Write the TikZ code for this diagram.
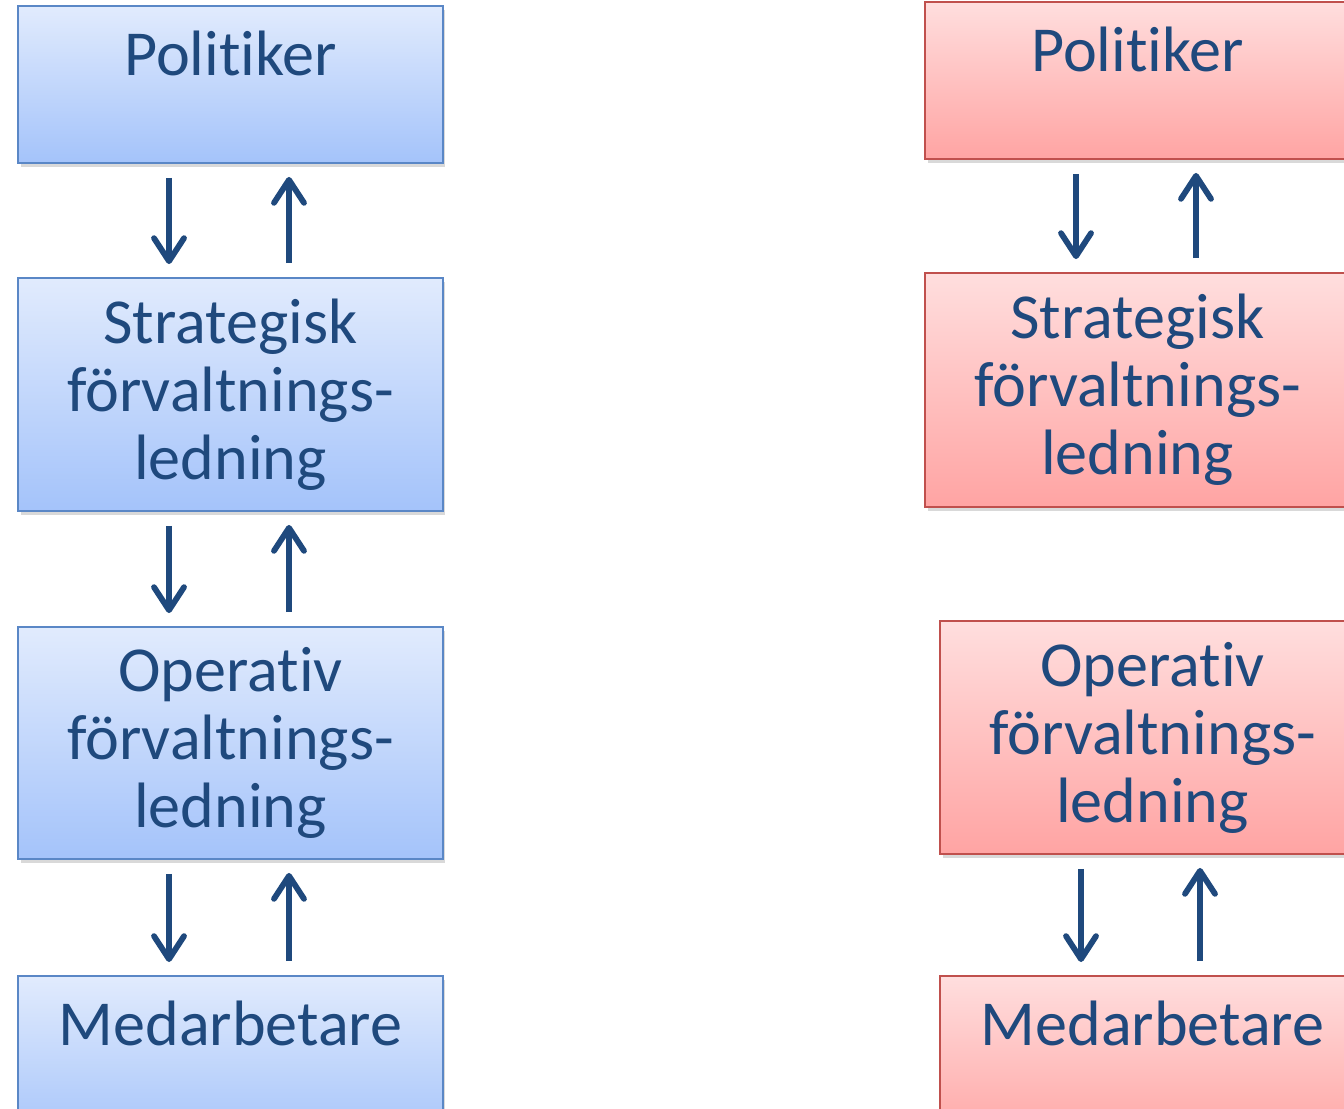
\documentclass[tikz,border=0pt]{standalone}
\usepackage{fontspec}
\setmainfont{Carlito}[Ligatures=NoCommon]
\usetikzlibrary{arrows.meta,shadows}
\definecolor{blatopp}{HTML}{E1EBFD}
\definecolor{blabotten}{HTML}{A4C3FA}
\definecolor{blakant}{HTML}{5A87C6}
\definecolor{rodtopp}{HTML}{FFDEDE}
\definecolor{rodbotten}{HTML}{FFA4A3}
\definecolor{rodkant}{HTML}{C0504D}
\definecolor{morkbla}{HTML}{1F497D}
\tikzset{
ruta/.style={line width=1.1pt, minimum width=8.5cm, text width=8cm, align=center, inner sep=0pt,
  drop shadow={opacity=0.3, shadow xshift=0.5mm, shadow yshift=-0.8mm}},
blaruta/.style={ruta, draw=blakant, top color=blatopp, bottom color=blabotten},
rodruta/.style={ruta, draw=rodkant, top color=rodtopp, bottom color=rodbotten},
pil/.style={draw=morkbla, line width=3.3pt, -{Straight Barb[length=4.6mm,width=6mm,round]},
  shorten <=0.28cm, shorten >=0.26cm}
}
\begin{document}
\begin{tikzpicture}[x=0.02cm,y=-0.02cm,font=\fontsize{36.5}{38.7}\selectfont,text=morkbla]
\newcommand\pilar[4]{
\path[pil] ([xshift=#3]#1.south) -- ([xshift=#3]#1.south |- #2.north);
\path[pil] ([xshift=#4]#1.south |- #2.north) -- ([xshift=#4]#1.south);
}
\useasboundingbox (0,0) rectangle (1344,1108);
\clip (0,0) rectangle (1344,1108);
% vänster kolumn
\begin{scope}
\node[blaruta, minimum height=3.14cm] (pol1) at (230.5,84.5) {};
\node[anchor=base] (pol1t) at ([yshift=-1.4cm]pol1.north) {Politiker};
\node[blaruta, minimum height=4.66cm] (str1) at (230.5,394.5) {Strategisk\\förvaltnings-\\ledning};
\node[blaruta, minimum height=4.64cm] (ope1) at (230.5,743) {Operativ\\förvaltnings-\\ledning};
\node[blaruta, minimum height=3.4cm, anchor=north] (med1) at (230.5,975) {};
\node[anchor=base] (med1t) at ([yshift=-1.4cm]med1.north) {Medarbetare};
\pilar{pol1}{str1}{-1.23cm}{1.17cm}
\pilar{str1}{ope1}{-1.23cm}{1.17cm}
\pilar{ope1}{med1}{-1.23cm}{1.17cm}
\end{scope}
% höger kolumn
\begin{scope}
\node[rodruta, minimum height=3.14cm] (pol2) at (1137.5,80.5) {};
\node[anchor=base] (pol2t) at ([yshift=-1.4cm]pol2.north) {Politiker};
\node[rodruta, minimum height=4.68cm] (str2) at (1137.5,390) {Strategisk\\förvaltnings-\\ledning};
\node[rodruta, minimum height=4.66cm] (ope2) at (1152.5,737.5) {Operativ\\förvaltnings-\\ledning};
\node[rodruta, minimum height=3.4cm, anchor=north] (med2) at (1152.5,975) {};
\node[anchor=base] (med2t) at ([yshift=-1.4cm]med2.north) {Medarbetare};
\pilar{pol2}{str2}{-1.23cm}{1.17cm}
\pilar{ope2}{med2}{-1.43cm}{0.95cm}
\end{scope}
\end{tikzpicture}
\end{document}
